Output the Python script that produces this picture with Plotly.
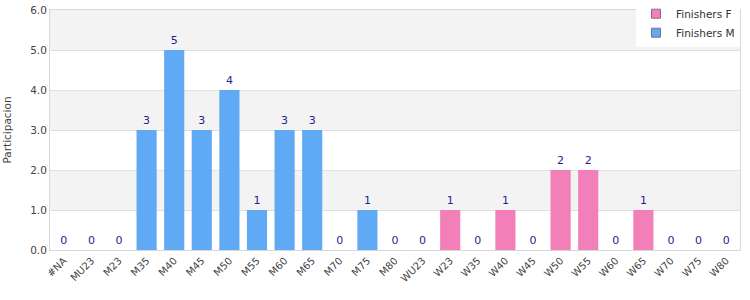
import plotly.graph_objects as go

categories = ["#NA", "MU23", "M23", "M35", "M40", "M45", "M50", "M55", "M60", "M65", "M70", "M75", "M80",
              "WU23", "W23", "W35", "W40", "W45", "W50", "W55", "W60", "W65", "W70", "W75", "W80"]
finishers_m = [0, 0, 0, 3, 5, 3, 4, 1, 3, 3, 0, 1, 0,
               None, None, None, None, None, None, None, None, None, None, None, None]
finishers_f = [None] * 13 + [0, 1, 0, 1, 0, 2, 2, 0, 1, 0, 0, 0]

BLUE = "#60a9f4"
PINK = "#f27fb8"
LABEL = "#1f1f8f"
FONT = "DejaVu Sans"

def labels(vals):
    return ["" if v is None else str(v) for v in vals]

tf = dict(color=LABEL, size=11, family=FONT)
fig = go.Figure()
for name, vals, col in [("Finishers F", finishers_f, PINK), ("Finishers M", finishers_m, BLUE)]:
    fig.add_trace(go.Bar(x=categories, y=vals, name=name, marker_color=col,
                         marker_line_width=0, text=labels(vals), textposition="outside",
                         textfont=tf, outsidetextfont=tf, insidetextfont=tf, cliponaxis=False,
                         showlegend=False))
for name, col in [("Finishers F", PINK), ("Finishers M", BLUE)]:
    fig.add_trace(go.Scatter(x=[None], y=[None], mode="markers", name=name,
                             marker=dict(symbol="square", size=9, color=col,
                                         line=dict(color="#777", width=1))))

shapes = []
for lo in [5, 3, 1]:
    shapes.append(dict(type="rect", xref="paper", yref="y", x0=0, x1=1, y0=lo, y1=lo + 1,
                       fillcolor="#f3f3f3", line_width=0, layer="below"))

fig.update_layout(
    width=750, height=300,
    margin=dict(l=50, r=10, t=10, b=50, autoexpand=False),
    plot_bgcolor="white", paper_bgcolor="white",
    barmode="overlay", bargap=0.27,
    font=dict(family=FONT, size=10, color="#444"),
    shapes=shapes,
    showlegend=True,
    legend=dict(x=1.0, y=1.045, xanchor="right", yanchor="top",
                bgcolor="white", traceorder="normal", font=dict(size=10.5, color="#333"),
                itemwidth=30, tracegroupgap=0, borderwidth=0),
    uniformtext=dict(mode=False),
)
fig.update_xaxes(type="category", tickangle=-45, showline=True, linecolor="#d8d8d8", mirror=True,
                 ticks="", tickfont=dict(size=10, color="#444"))
fig.update_yaxes(range=[0, 6], dtick=1, tickformat=".1f", showgrid=True, gridcolor="#e0e0e0",
                 showline=True, linecolor="#d8d8d8", mirror=True, zeroline=False,
                 title=dict(text="Participacion", font=dict(size=10.5, color="#444"), standoff=16),
                 tickfont=dict(size=10.5, color="#444"))

fig.write_html("out.html")
